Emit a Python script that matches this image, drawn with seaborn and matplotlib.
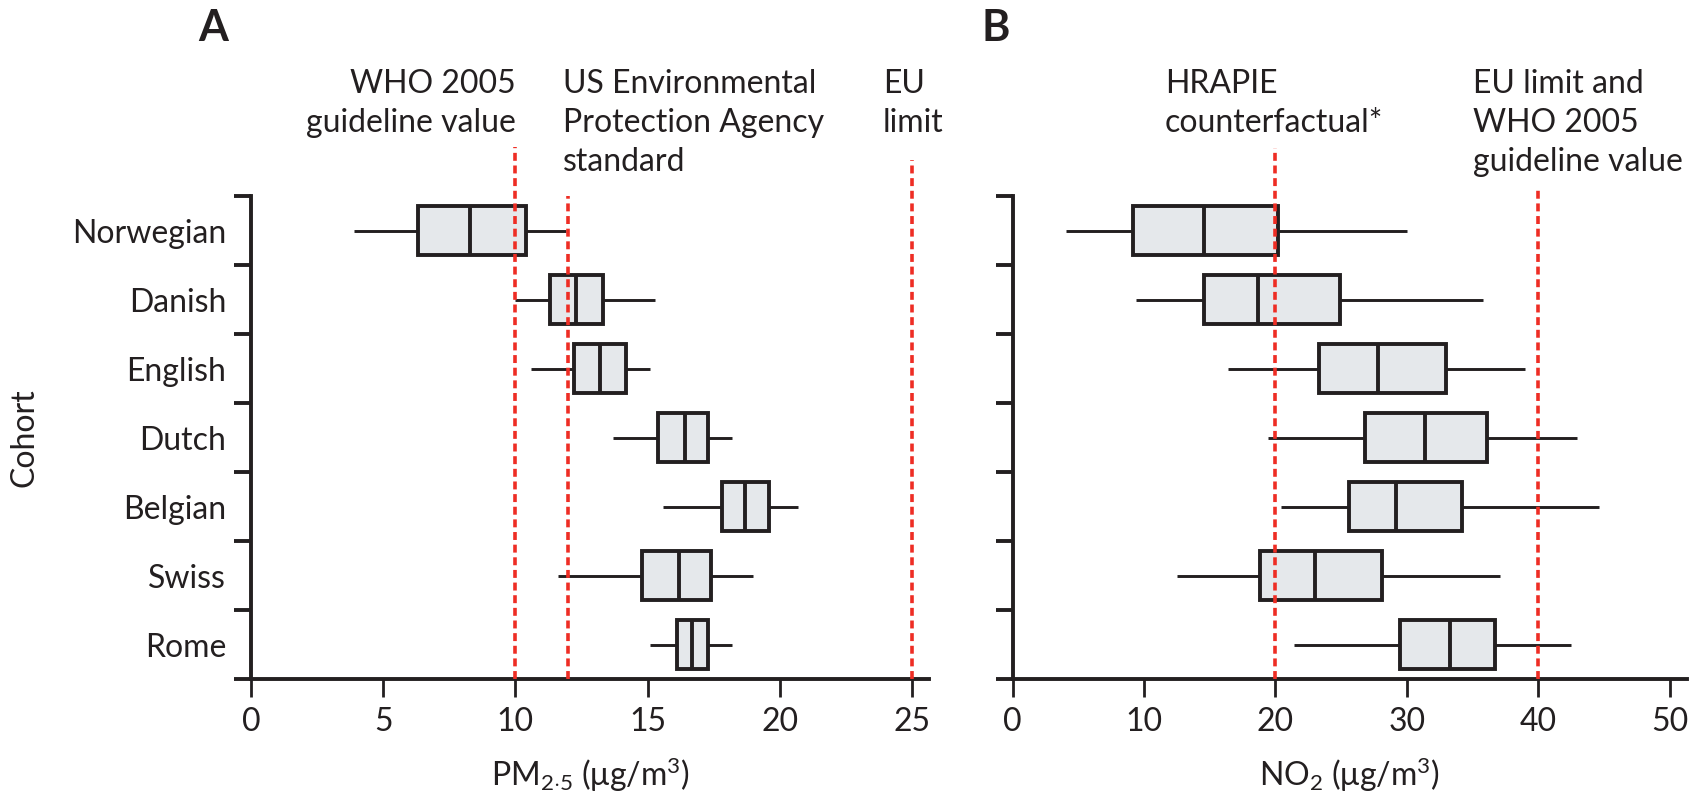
import numpy as np
import pandas as pd
import matplotlib
matplotlib.use("Agg")
import matplotlib.pyplot as plt
import seaborn as sns
from matplotlib.ticker import NullFormatter
from matplotlib.transforms import blended_transform_factory

# ---------------- data ----------------
cohorts = ["Norwegian", "Danish", "English", "Dutch", "Belgian", "Swiss", "Rome"]

pm_low = [3.9, 10.0, 10.6, 13.7, 15.6, 11.6, 15.1]
pm_q1 = [6.3, 11.3, 12.2, 15.4, 17.8, 14.8, 16.1]
pm_med = [8.3, 12.3, 13.2, 16.4, 18.7, 16.2, 16.7]
pm_q3 = [10.4, 13.3, 14.2, 17.3, 19.6, 17.4, 17.3]
pm_high = [11.9, 15.3, 15.1, 18.2, 20.7, 19.0, 18.2]

no2_low = [4.1, 9.4, 16.4, 19.4, 20.4, 12.5, 21.4]
no2_q1 = [9.2, 14.6, 23.3, 26.8, 25.6, 18.8, 29.5]
no2_med = [14.6, 18.7, 27.8, 31.4, 29.2, 23.0, 33.3]
no2_q3 = [20.2, 24.9, 33.0, 36.1, 34.2, 28.1, 36.7]
no2_high = [30.0, 35.8, 39.0, 42.9, 44.6, 37.1, 42.5]

pm_refs = [10, 12, 25]
pm_ref_labels = ["WHO 2005\nguideline value",
                 "US Environmental\nProtection Agency\nstandard",
                 "EU\nlimit"]
no2_refs = [20, 40]
no2_ref_labels = ["HRAPIE\ncounterfactual*",
                  "EU limit and\nWHO 2005\nguideline value"]

pm_ticks = [0, 5, 10, 15, 20, 25]
no2_ticks = [0, 10, 20, 30, 40, 50]

# ---------------- styling ----------------
sns.set_theme(style="ticks")
FONT = ["Lato", "DejaVu Sans"]
plt.rcParams["font.family"] = FONT
plt.rcParams["mathtext.fontset"] = "custom"
plt.rcParams["mathtext.rm"] = "Lato"
plt.rcParams["mathtext.it"] = "Lato"
plt.rcParams["mathtext.bf"] = "Lato:bold"

DARK = "#231F20"
FILL = "#E5E8EB"
RED = "#EE2D24"
FS = 23
LW = 2.8


def long_frame(low, q1, med, q3, high):
    rows = []
    for c, a, b, m, d, e in zip(cohorts, low, q1, med, q3, high):
        for v in (a, b, m, d, e):
            rows.append({"cohort": c, "value": v})
    return pd.DataFrame(rows)


pm_df = long_frame(pm_low, pm_q1, pm_med, pm_q3, pm_high)
no2_df = long_frame(no2_low, no2_q1, no2_med, no2_q3, no2_high)

fig = plt.figure(figsize=(16.98, 7.94), dpi=100)
axA = fig.add_axes([0.1479, 0.1448, 0.3992, 0.6083])
axB = fig.add_axes([0.5963, 0.1448, 0.3972, 0.6083])


def draw(ax, df, xmax, ticks, refs, ref_tops, labels, label_x, label_ha, show_names):
    sns.boxplot(data=df, x="value", y="cohort", order=cohorts, orient="h", ax=ax,
                whis=(0, 100), width=0.72, color=FILL, saturation=1,
                linecolor=DARK, linewidth=LW, showcaps=False, fliersize=0,
                whiskerprops=dict(linewidth=2.1, color=DARK),
                medianprops=dict(linewidth=LW, color=DARK),
                boxprops=dict(linewidth=LW, edgecolor=DARK, facecolor=FILL))
    ax.set_xlim(0, xmax)
    ax.set_ylim(6.5, -0.5)
    for s in ("top", "right"):
        ax.spines[s].set_visible(False)
    for s in ("left", "bottom"):
        ax.spines[s].set_linewidth(LW)
        ax.spines[s].set_color(DARK)
    ax.set_xticks(ticks)
    ax.set_xticklabels([str(t) for t in ticks])
    ax.tick_params(axis="x", direction="out", length=13, width=2.0, color=DARK,
                   pad=7, labelsize=FS, labelcolor=DARK)
    ax.set_yticks(np.arange(-0.5, 7.0, 1.0))
    ax.yaxis.set_major_formatter(NullFormatter())
    ax.tick_params(axis="y", which="major", direction="out", length=12.5,
                   width=LW, color=DARK)
    if show_names:
        ax.set_yticks(range(len(cohorts)), labels=cohorts, minor=True)
    else:
        ax.set_yticks(range(len(cohorts)), minor=True)
        ax.yaxis.set_minor_formatter(NullFormatter())
    ax.tick_params(axis="y", which="minor", length=0, pad=18, labelsize=FS,
                   labelcolor=DARK)
    ax.set_ylabel("")
    for v, top in zip(refs, ref_tops):
        ax.axvline(v, ymin=0, ymax=top, color=RED, lw=2.6, dashes=(2.2, 1.3),
                   clip_on=False, zorder=6)
    tr = blended_transform_factory(ax.transData, ax.transAxes)
    for lab, x, ha in zip(labels, label_x, label_ha):
        ax.text(x, 1.263, lab, transform=tr, ha=ha, va="top",
                multialignment=ha, fontsize=FS, color=DARK, linespacing=1.38,
                clip_on=False)


draw(axA, pm_df, 25.65, pm_ticks, pm_refs, [1.101, 1.0, 1.075],
     pm_ref_labels, [10.0, 11.79, 23.9], ["right", "left", "left"], True)
draw(axB, no2_df, 51.3, no2_ticks, no2_refs, [1.099, 1.019],
     no2_ref_labels, [11.6, 35.0], ["left", "left"], False)

axA.set_xlabel(r"PM$_{2{\cdot}5}$ (μg/m$^3$)", fontsize=FS, color=DARK)
axB.set_xlabel(r"NO$_2$ (μg/m$^3$)", fontsize=FS, color=DARK)
axA.xaxis.set_label_coords(0.5, -0.157)
axB.xaxis.set_label_coords(0.5, -0.157)

fig.text(0.0145, 0.449, "Cohort", rotation=90, ha="center", va="center",
         fontsize=FS, color=DARK)
fig.text(0.1166, 0.99, "A", ha="left", va="top", fontsize=31,
         fontweight="bold", color=DARK)
fig.text(0.578, 0.99, "B", ha="left", va="top", fontsize=31,
         fontweight="bold", color=DARK)

fig.savefig("out.png", dpi=100)
